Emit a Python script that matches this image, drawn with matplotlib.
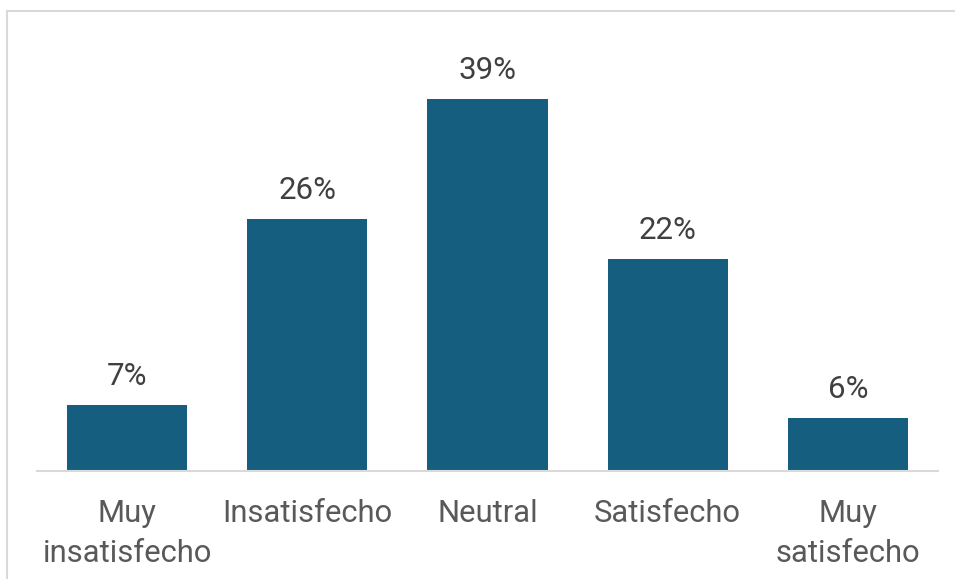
import matplotlib
matplotlib.use("Agg")
import matplotlib.pyplot as plt
from matplotlib.lines import Line2D

categories = ["Muy\ninsatisfecho", "Insatisfecho", "Neutral", "Satisfecho", "Muy\nsatisfecho"]
values = [6.9, 26.4, 39.0, 22.2, 5.6]
labels = ["7%", "26%", "39%", "22%", "6%"]

plt.rcParams['font.family'] = ['Roboto', 'DejaVu Sans']

W, H = 955, 579
fig = plt.figure(figsize=(W / 100, H / 100), dpi=100)
ax = fig.add_axes([37 / W, 1 - 471 / H, 901 / W, 429 / H])

x = list(range(len(categories)))
bars = ax.bar(x, values, width=0.667, color="#165E80")
ax.set_xlim(-0.5, 4.5)
ax.set_ylim(0, 45)

for xi, v, lab in zip(x, values, labels):
    ax.annotate(lab, (xi, v), xytext=(0, 10), textcoords="offset points",
                ha="center", va="bottom", fontsize=22.5, color="#404040")

ax.set_xticks(x)
ax.set_xticklabels(categories, fontsize=22.3, color="#595959", linespacing=1.47)
ax.tick_params(axis="x", length=0, pad=20.5)
ax.set_yticks([])
for s in ["top", "right", "left"]:
    ax.spines[s].set_visible(False)
ax.spines["bottom"].set_color("#D9D9D9")
ax.spines["bottom"].set_linewidth(1.5)

# outer chart border (top and left visible)
fig.add_artist(Line2D([7 / W, 7 / W], [0, 1 - 11 / H], transform=fig.transFigure,
                      color="#D9D9D9", lw=1.5))
fig.add_artist(Line2D([7 / W, 1], [1 - 11 / H, 1 - 11 / H], transform=fig.transFigure,
                      color="#D9D9D9", lw=1.5))

fig.savefig("out.png", dpi=100)
